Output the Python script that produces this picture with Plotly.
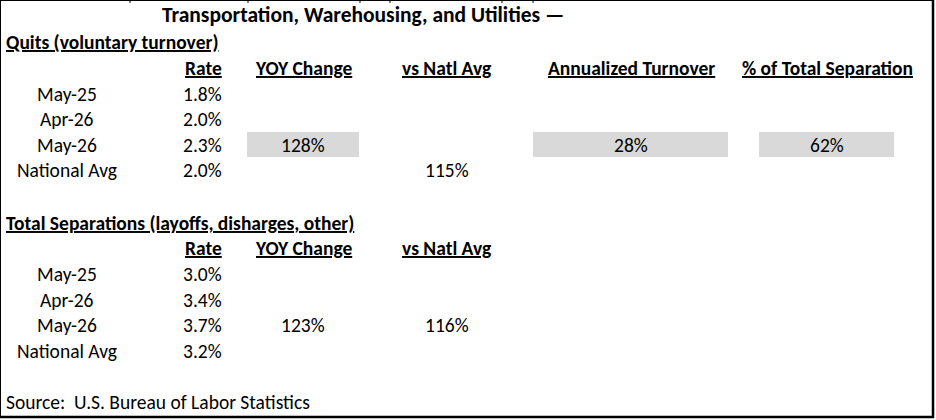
import plotly.graph_objects as go

# ------------------------------------------------------------------
# Datos
# ------------------------------------------------------------------
titulo = "Transportation, Warehousing, and Utilities \u2014"
fuente = "Source:  U.S. Bureau of Labor Statistics"

# Quits
quits_titulo = "Quits (voluntary turnover)"
quits_cols = ["Rate", "YOY Change", "vs Natl Avg", "Annualized Turnover", "% of Total Separation"]
quits_filas = ["May-25", "Apr-26", "May-26", "National Avg"]
quits_rate = ["1.8%", "2.0%", "2.3%", "2.0%"]
quits_yoy = ["", "", "128%", ""]
quits_vs_natl = ["", "", "", "115%"]
quits_anual = ["", "", "28%", ""]
quits_pct_sep = ["", "", "62%", ""]

# Total separations
sep_titulo = "Total Separations (layoffs, disharges, other)"
sep_cols = ["Rate", "YOY Change", "vs Natl Avg"]
sep_filas = ["May-25", "Apr-26", "May-26", "National Avg"]
sep_rate = ["3.0%", "3.4%", "3.7%", "3.2%"]
sep_yoy = ["", "", "123%", ""]
sep_vs_natl = ["", "", "116%", ""]

# ------------------------------------------------------------------
# Layout de la "hoja"
# ------------------------------------------------------------------
W, H = 936, 420
FONT = "Carlito, Calibri, Lato, sans-serif"
FS = 19.5
FS_TIT = 21.5
GRIS = "#d9d9d9"

# columnas: (x, anchor) y cajas grises (x0, x1)
x_label = 67
x_rate = 224
x_cols = [303, 447, 631, 827]
cajas = [(247, 359), (533, 728), (759, 894)]

fig = go.Figure()
anots = []


def texto(x, y, s, anchor="center", bold=False, underline=False, size=FS):
    if s == "":
        return
    if underline:
        s = f"<u>{s}</u>"
    if bold:
        s = f"<b>{s}</b>"
    anots.append(dict(
        x=x, y=y, xref="x", yref="y", text=s, showarrow=False,
        xanchor=anchor, yanchor="middle",
        font=dict(family=FONT, size=size, color="black")))


def seccion(y0, tit, cols, filas, rate, otras, grises=False):
    texto(4, y0, tit, "left", bold=True, underline=True)
    y_head = y0 + 25.5
    texto(x_rate, y_head, cols[0], "right", bold=True, underline=True)
    for xc, c in zip(x_cols, cols[1:]):
        texto(xc, y_head, c, "center", bold=True, underline=True)
    for i, f in enumerate(filas):
        y = y_head + 26 + i * 25.5
        texto(x_label, y, f, "center")
        texto(x_rate, y, rate[i], "right")
        for xc, serie in zip(x_cols, otras):
            texto(xc, y, serie[i], "center")
        if grises and i == 2:
            for (a, b) in cajas:
                fig.add_shape(type="rect", x0=a, x1=b, y0=y - 12.5, y1=y + 12.5,
                              fillcolor=GRIS, line_width=0, layer="below")


texto(160, 15, titulo, "left", bold=True, size=FS_TIT)
seccion(42, quits_titulo, quits_cols, quits_filas, quits_rate,
        [quits_yoy, quits_vs_natl, quits_anual, quits_pct_sep], grises=True)
seccion(222.5, sep_titulo, sep_cols, sep_filas, sep_rate,
        [sep_yoy, sep_vs_natl])
texto(4, 402, fuente, "left")

# bordes del recuadro
fig.add_shape(type="line", x0=0, x1=933, y0=0.5, y1=0.5, line=dict(color="black", width=1))
fig.add_shape(type="line", x0=0.5, x1=0.5, y0=0, y1=418, line=dict(color="black", width=1))
fig.add_shape(type="line", x0=933, x1=933, y0=0, y1=418, line=dict(color="black", width=2.5))
fig.add_shape(type="line", x0=0, x1=934, y0=417, y1=417, line=dict(color="black", width=2.5))
# marcas de las columnas de la hoja en el borde superior
for xm in [130, 248, 360, 390, 502, 533]:
    fig.add_shape(type="line", x0=xm, x1=xm, y0=0, y1=3, line=dict(color="black", width=1))

fig.update_layout(
    width=W, height=H,
    margin=dict(l=0, r=0, t=0, b=0),
    paper_bgcolor="white", plot_bgcolor="white",
    xaxis=dict(range=[0, W], visible=False, fixedrange=True),
    yaxis=dict(range=[H, 0], visible=False, fixedrange=True),
    annotations=anots,
    showlegend=False,
)

# sin margen del body para que la figura ocupe toda la ventana
fig.write_html("out.html", post_script="document.body.style.margin='0';",
               config={"displayModeBar": False})
